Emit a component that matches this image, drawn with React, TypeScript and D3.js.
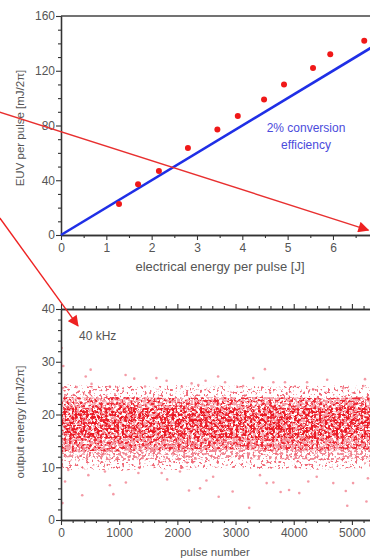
import { useEffect, useRef } from "react";
import * as d3 from "d3";

// upper panel: EUV energy vs electrical energy per pulse
const inputJ = [1.28, 1.7, 2.16, 2.8, 3.45, 3.9, 4.48, 4.92, 5.56, 5.94, 6.69];
const euvMJ = [22.6, 37, 46.7, 63.5, 77, 87, 99, 110, 122, 132, 142];
const effJ = [0, 7];
const effMJ = [0, 140]; // 2 % line
const topXTicks = [0, 1, 2, 3, 4, 5, 6];
const topYTicks = [0, 40, 80, 120, 160];

// lower panel: pulse-to-pulse output at 40 kHz (band envelope per pulse bin)
const binPulse = [0, 500, 1000, 1500, 2000, 2500, 3000, 3500, 4000, 4500, 5000, 5500];
const sparseTop = [25.8, 25.4, 25.5, 25.3, 25.6, 25.4, 25.5, 25.3, 25.5, 25.4, 25.6, 25.5];
const denseTop = [23.3, 23.2, 23.3, 23.2, 23.1, 23.3, 23.2, 23.3, 23.2, 23.1, 23.2, 23.3];
const coreTop = [21.4, 21.2, 21.5, 21.3, 21.2, 21.4, 21.3, 21.5, 21.2, 21.3, 21.4, 21.3];
const coreBottom = [15.3, 15.5, 15.4, 15.6, 15.3, 15.5, 15.6, 15.4, 15.5, 15.3, 15.5, 15.4];
const denseBottom = [12.9, 13.1, 13.0, 13.3, 13.0, 13.2, 13.4, 13.1, 13.3, 13.1, 13.4, 13.2];
const fadeBottom = [11.2, 11.4, 11.1, 11.6, 11.3, 11.5, 11.7, 11.4, 11.6, 11.3, 11.6, 11.5];
const sparseBottom = [9.4, 9.6, 9.3, 9.8, 9.5, 9.7, 9.9, 9.6, 9.8, 9.5, 9.8, 9.7];
// isolated pulses
const outPulse = [10, 40, 25, 510, 1110, 425, 1260, 1640, 1815, 2485, 2245, 525, 270, 840, 1445, 2075, 2360,
  3505, 2700, 3305, 4575, 5225, 2820, 3650, 3850, 4230, 5195, 4850, 3130, 4335,
  365, 900, 840, 1115, 70, 2200, 2390, 2500, 25, 1825, 470, 755, 1730, 125, 1330, 2045,
  3235, 4920, 2710, 2950, 3775, 3920, 4095, 4895, 5250, 3535, 3650, 4250, 4680, 5020, 2615, 3420, 4395, 5275];
const outEnergy = [32.6, 29.2, 25, 28.5, 27.5, 27.2, 26.8, 26.9, 26.4, 26.4, 25.9, 25.8, 25.2, 25.3, 25.3, 25.3, 25.6,
  28.6, 27.2, 26.9, 26.6, 26.7, 26.1, 26.1, 26.1, 26.1, 25.4, 25.0, 25.4, 24.8,
  4.7, 4.9, 6.6, 7.1, 7.3, 5.6, 6.0, 7.5, 3.2, 7.7, 8.5, 9.2, 8.9, 9.5, 8.9, 9.2,
  2.3, 2.7, 4.4, 5.4, 5.3, 5.7, 5.1, 5.5, 3.5, 7.0, 7.1, 7.3, 7.0, 7.0, 8.2, 8.5, 8.2, 7.9];
const botXTicks = [0, 1000, 2000, 3000, 4000, 5000];
const botYTicks = [0, 10, 20, 30, 40];

const FONT = "Liberation Sans, Arial, sans-serif";

export default function App() {
  const svgRef = useRef<SVGSVGElement>(null);

  useEffect(() => {
    const el = svgRef.current;
    if (!el) return;
    d3.select(el).selectAll("*").remove();
    const svg = d3.select(el);
    const defs = svg.append("defs");

    // speckle texture so a filled band reads like a cloud of single pulses
    const speck = (id: string, seed: number, thr: number) => {
      const f = defs.append("filter").attr("id", id)
        .attr("x", "-2%").attr("y", "-5%").attr("width", "104%").attr("height", "110%")
        .attr("color-interpolation-filters", "sRGB");
      f.append("feTurbulence").attr("type", "fractalNoise").attr("baseFrequency", 0.36)
        .attr("numOctaves", 2).attr("seed", seed).attr("result", "noise");
      f.append("feColorMatrix").attr("in", "noise").attr("type", "matrix")
        .attr("values", "0 0 0 0 0  0 0 0 0 0  0 0 0 0 0  1 0 0 0 0").attr("result", "a");
      f.append("feComponentTransfer").attr("in", "a").attr("result", "mask")
        .append("feFuncA").attr("type", "linear").attr("slope", 10).attr("intercept", 0.5 - 10 * thr);
      f.append("feComposite").attr("in", "SourceGraphic").attr("in2", "mask").attr("operator", "in").attr("result", "c");
      f.append("feGaussianBlur").attr("in", "c").attr("stdDeviation", 0.35);
    };
    speck("spSparse", 3, 0.62);
    speck("spFade", 5, 0.57);
    speck("spPink", 7, 0.5);
    speck("spRed", 11, 0.575);
    speck("spCore", 19, 0.565);

    const arrow = defs.append("marker").attr("id", "arr").attr("viewBox", "0 0 10 10")
      .attr("refX", 9).attr("refY", 5).attr("markerWidth", 12).attr("markerHeight", 11)
      .attr("markerUnits", "userSpaceOnUse").attr("orient", "auto");
    arrow.append("path").attr("d", "M0,0L10,5L0,10z").attr("fill", "#ee2222");

    const styleAxis = (ax: any) => {
      ax.select(".domain").attr("stroke", "#333").attr("stroke-width", 1.3);
      ax.selectAll(".tick line").attr("stroke", "#333").attr("stroke-width", 1.1);
      ax.selectAll("text").attr("fill", "#555").attr("font-size", "12px").attr("font-family", FONT);
    };

    // ---------- upper panel ----------
    const x1 = d3.scaleLinear().domain([0, 7]).range([61, 378.3]);
    const y1 = d3.scaleLinear().domain([0, 160]).range([235, 16]);
    const top = svg.append("g");

    top.append("line").attr("x1", x1(0)).attr("x2", x1(7)).attr("y1", y1(160)).attr("y2", y1(160))
      .attr("stroke", "#444").attr("stroke-width", 1.5);

    top.append("g").attr("transform", `translate(0,${y1(0)})`)
      .call(d3.axisBottom(x1).tickValues(d3.range(0.5, 7, 1)).tickSize(3).tickSizeOuter(0).tickFormat(() => ""))
      .call(styleAxis);
    top.append("g").attr("transform", `translate(0,${y1(0)})`)
      .call(d3.axisBottom(x1).tickValues(topXTicks).tickSize(5).tickSizeOuter(0).tickPadding(3).tickFormat(d3.format("d")))
      .call(styleAxis);
    top.append("g").attr("transform", `translate(${x1(0)},0)`)
      .call(d3.axisLeft(y1).tickValues(d3.range(10, 160, 10).filter(v => v % 40)).tickSize(3).tickSizeOuter(0).tickFormat(() => ""))
      .call(styleAxis);
    top.append("g").attr("transform", `translate(${x1(0)},0)`)
      .call(d3.axisLeft(y1).tickValues(topYTicks).tickSize(5).tickSizeOuter(0).tickPadding(1).tickFormat(d3.format("d")))
      .call(styleAxis);

    top.append("path").datum(d3.zip(effJ, effMJ))
      .attr("fill", "none").attr("stroke", "#1f2fe6").attr("stroke-width", 2.6)
      .attr("d", d3.line().x(d => x1(d[0])).y(d => y1(d[1])) as any);

    top.selectAll("circle").data(d3.zip(inputJ, euvMJ)).join("circle")
      .attr("cx", d => x1(d[0])).attr("cy", d => y1(d[1])).attr("r", 3).attr("fill", "#f01818");

    top.append("text").attr("x", 306).attr("y", 132).attr("text-anchor", "middle")
      .attr("font-family", FONT).attr("font-size", "12px").attr("fill", "#4b4bdc").text("2% conversion");
    top.append("text").attr("x", 306).attr("y", 149).attr("text-anchor", "middle")
      .attr("font-family", FONT).attr("font-size", "12px").attr("fill", "#4b4bdc").text("efficiency");

    top.append("text").attr("x", 220).attr("y", 271).attr("text-anchor", "middle")
      .attr("font-family", FONT).attr("font-size", "13px").attr("fill", "#555")
      .text("electrical energy per pulse [J]");
    top.append("text").attr("transform", "translate(24,128) rotate(-90)").attr("text-anchor", "middle")
      .attr("font-family", FONT).attr("font-size", "11.5px").attr("fill", "#555")
      .text("EUV per pulse [mJ/2\u03c0]");

    // ---------- lower panel ----------
    const x2 = d3.scaleLinear().domain([0, 5500]).range([61, 381]);
    const y2 = d3.scaleLinear().domain([0, 40]).range([520, 309]);
    const bot = svg.append("g");

    const band = (lo: number[], hi: number[]) =>
      d3.area<number>().x(i => x2(binPulse[i])).y0(i => y2(lo[i])).y1(i => y2(hi[i]))(d3.range(binPulse.length));
    defs.append("clipPath").attr("id", "botClip").append("rect")
      .attr("x", x2(0) + 1).attr("y", y2(40)).attr("width", 400).attr("height", y2(0) - y2(40));
    const dots = bot.append("g").attr("clip-path", "url(#botClip)");
    dots.append("path").attr("d", band(sparseBottom, sparseTop)).attr("fill", "#f06a78").attr("filter", "url(#spSparse)");
    dots.append("path").attr("d", band(fadeBottom, coreBottom)).attr("fill", "#f08a96").attr("filter", "url(#spFade)");
    dots.append("path").attr("d", band(denseBottom, denseTop)).attr("fill", "#f6a4ac").attr("filter", "url(#spPink)");
    dots.append("path").attr("d", band(denseBottom, denseTop)).attr("fill", "#ee2a36").attr("filter", "url(#spRed)");
    dots.append("path").attr("d", band(coreBottom, coreTop)).attr("fill", "#ea1822").attr("filter", "url(#spCore)");
    dots.selectAll("circle").data(d3.zip(outPulse, outEnergy)).join("circle")
      .attr("cx", d => x2(d[0])).attr("cy", d => y2(d[1])).attr("r", 1.3)
      .attr("fill", "#f07080").attr("opacity", 0.7);

    bot.append("g").attr("transform", `translate(0,${y2(0)})`)
      .call(d3.axisBottom(x2).tickValues(d3.range(200, 5500, 200).filter(v => v % 1000)).tickSize(3).tickSizeOuter(0).tickFormat(() => ""))
      .call(styleAxis);
    bot.append("g").attr("transform", `translate(0,${y2(0)})`)
      .call(d3.axisBottom(x2).tickValues(botXTicks).tickSize(5).tickSizeOuter(0).tickPadding(3).tickFormat(d3.format("d")))
      .call(styleAxis);
    bot.append("g").attr("transform", `translate(0,${y2(40)})`)
      .call(d3.axisTop(x2).tickValues(d3.range(200, 5500, 200).filter(v => v % 1000)).tickSize(3).tickSizeOuter(0).tickFormat(() => ""))
      .call(styleAxis);
    bot.append("g").attr("transform", `translate(0,${y2(40)})`)
      .call(d3.axisTop(x2).tickValues(botXTicks).tickSize(5).tickSizeOuter(0).tickFormat(() => ""))
      .call(styleAxis);
    bot.append("g").attr("transform", `translate(${x2(0)},0)`)
      .call(d3.axisLeft(y2).tickValues(d3.range(2, 40, 2).filter(v => v % 10)).tickSize(3).tickSizeOuter(0).tickFormat(() => ""))
      .call(styleAxis);
    bot.append("g").attr("transform", `translate(${x2(0)},0)`)
      .call(d3.axisLeft(y2).tickValues(botYTicks).tickSize(5).tickSizeOuter(0).tickPadding(1).tickFormat(d3.format("d")))
      .call(styleAxis);

    bot.append("text").attr("x", 79).attr("y", 340)
      .attr("font-family", FONT).attr("font-size", "12px").attr("fill", "#555").text("40 kHz");
    bot.append("text").attr("x", 215).attr("y", 556).attr("text-anchor", "middle")
      .attr("font-family", FONT).attr("font-size", "11.5px").attr("fill", "#555").text("pulse number");
    bot.append("text").attr("transform", "translate(24,422) rotate(-90)").attr("text-anchor", "middle")
      .attr("font-family", FONT).attr("font-size", "11.5px").attr("fill", "#555")
      .text("output energy [mJ/2\u03c0]");

    // ---------- red annotation arrows ----------
    svg.append("line")
      .attr("x1", x1(-1.35)).attr("y1", y1(89.8)).attr("x2", x1(6.78)).attr("y2", y1(3.6))
      .attr("stroke", "#e83030").attr("stroke-width", 1.4).attr("marker-end", "url(#arr)");
    svg.append("line")
      .attr("x1", x1(-1.35)).attr("y1", y1(12.4)).attr("x2", x2(292)).attr("y2", y2(36.8))
      .attr("stroke", "#ee2222").attr("stroke-width", 1.4).attr("marker-end", "url(#arr)");
  }, []);

  return (
    <svg ref={svgRef} width={370} height={558}
      style={{ position: "absolute", left: 0, top: 0, display: "block", background: "#fff" }} />
  );
}
